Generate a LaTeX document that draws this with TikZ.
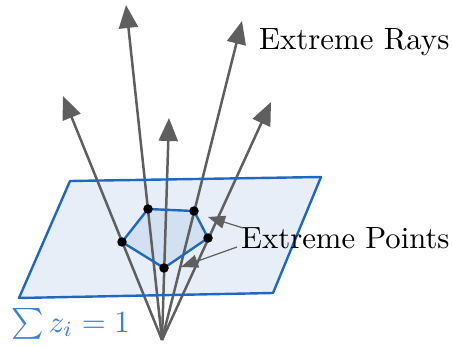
\documentclass[tikz,border=0pt]{standalone}
\usetikzlibrary{arrows.meta}
\definecolor{raygray}{HTML}{5F5F5F}
\definecolor{planeblue}{HTML}{1F68C1}
\definecolor{planefill}{HTML}{E7EEF8}
\definecolor{polyfill}{HTML}{D2E0F1}
\definecolor{sumblue}{HTML}{3C7FD6}
\begin{document}
\begin{tikzpicture}[x=1pt,y=-1pt,
  ray/.style={draw=raygray,line width=2.5pt,-{Triangle[length=23pt,width=19pt]},fill=raygray},
  pointer/.style={draw=raygray,line width=1.2pt,-{Triangle[length=17pt,width=13pt]},fill=raygray},
  planefillstyle/.style={fill=planefill},
  planeedge/.style={draw=planeblue,line width=2.4pt,line join=round},
  polyfillstyle/.style={fill=polyfill},
  dot/.style={circle,fill=black,inner sep=0pt,minimum size=9.5pt},
  lbl/.style={inner sep=0pt,anchor=base west}]
\useasboundingbox (0,0) rectangle (452,347);
% apex and ray tips
\coordinate (O) at (162,340);
\coordinate (t1) at (63,96);
\coordinate (t2) at (126,5);
\coordinate (t3) at (169,118);
\coordinate (t4) at (242,21);
\coordinate (t5) at (271,102);
% plane corners
\coordinate (q1) at (70,181);
\coordinate (q2) at (321,177);
\coordinate (q3) at (273,293);
\coordinate (q4) at (19,298);
% polygon corners
\coordinate (c1) at (122,242);
\coordinate (c2) at (148,209);
\coordinate (c3) at (194,211);
\coordinate (c4) at (208,238);
\coordinate (c5) at (164,268);
% fills
\fill[planefillstyle] (q1) -- (q2) -- (q3) -- (q4) -- cycle;
\fill[polyfillstyle] (c1) -- (c2) -- (c3) -- (c4) -- (c5) -- cycle;
% rays
\draw[ray] (O) -- (t1);
\draw[ray] (O) -- (t2);
\draw[ray] (O) -- (t3);
\draw[ray] (O) -- (t4);
\draw[ray] (O) -- (t5);
% edges
\draw[planeedge] (q1) -- (q2) -- (q3) -- (q4) -- cycle;
\draw[planeedge] (c1) -- (c2) -- (c3) -- (c4) -- (c5) -- cycle;
\node[dot] (p1) at (c1) {};
\node[dot] (p2) at (c2) {};
\node[dot] (p3) at (c3) {};
\node[dot] (p4) at (c4) {};
\node[dot] (p5) at (c5) {};
% labels
\node[lbl] (rays) at (259,50) {\scalebox{3.08}{Extreme Rays}};
\node[lbl] (pts) at (241,248) {\scalebox{3.07}{Extreme Points}};
\node[lbl,text=sumblue] (sum) at (11,332) {\scalebox{3.08}{$\sum z_i = 1$}};
% pointers
\coordinate (s1) at (243,228);
\coordinate (e1) at (208,217);
\coordinate (s2) at (237,247);
\coordinate (e2) at (181,267);
\draw[pointer] (s1) -- (e1);
\draw[pointer] (s2) -- (e2);
\end{tikzpicture}
\end{document}
